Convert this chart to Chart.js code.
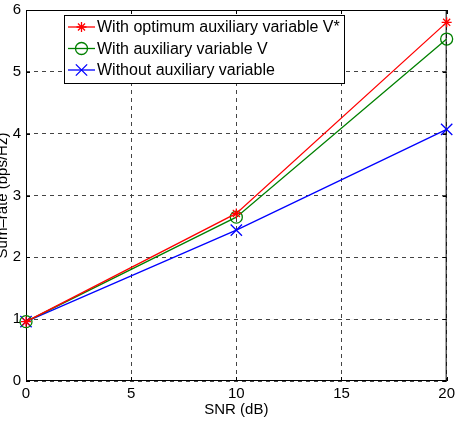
<!DOCTYPE html>
<html>
<head>
<meta charset="utf-8">
<script src="https://cdn.jsdelivr.net/npm/chart.js@4.4.1/dist/chart.umd.min.js"></script>
<style>
  html, body { margin: 0; padding: 0; background: #fff; overflow: hidden; }
  /* canvas a bit larger than the window so the plot box lands where matlab put it */
  #wrap { position: relative; width: 459px; height: 427px; margin-top: -4px; }
</style>
</head>
<body>
<div id="wrap"><canvas id="sumRateChart"></canvas></div>
<script>
// data
const snrValues = [0, 10, 20];
const withOptimumV = [0.96, 2.71, 5.8];
const withV = [0.96, 2.65, 5.53];
const withoutV = [0.96, 2.44, 4.07];

const seriesNames = [
  "With optimum auxiliary variable V*",
  "With auxiliary variable V",
  "Without auxiliary variable",
];
const seriesColors = ["#ff0000", "#008000", "#0000ff"];
const seriesMarkers = ["star", "circle", "crossRot"];
const markerSizes = [5, 6, 8];

const xTicks = [0, 5, 10, 15, 20];
const yTicks = [0, 1, 2, 3, 4, 5, 6];

const FONT = "'Liberation Sans', Arial, Helvetica, sans-serif";
const OFF = 4; // canvas is shifted up by this much

const toPoints = (ys) => snrValues.map((x, i) => ({ x: x, y: ys[i] }));

const datasets = [withOptimumV, withV, withoutV].map((ys, i) => ({
  label: seriesNames[i],
  data: toPoints(ys),
  borderColor: seriesColors[i],
  backgroundColor: "rgba(0,0,0,0)",
  borderWidth: 1.3,
  pointStyle: seriesMarkers[i],
  pointRadius: markerSizes[i],
  pointBorderWidth: 1.3,
  pointBorderColor: seriesColors[i],
  pointBackgroundColor: "rgba(0,0,0,0)",
  tension: 0,
  fill: false,
  clip: false,
}));

// box, inward ticks, axis titles and the legend box, matlab style
const matlabFrame = {
  id: "matlabFrame",
  beforeDatasetsDraw(chart) {
    const ctx = chart.ctx;
    const area = chart.chartArea;
    const xs = chart.scales.x;
    const ys = chart.scales.y;
    ctx.save();
    ctx.strokeStyle = "#000";
    ctx.lineWidth = 1;
    ctx.setLineDash([]);
    ctx.strokeRect(area.left + 0.5, area.top + 0.5, area.right - area.left - 1, area.bottom - area.top - 1);

    const tl = 4;
    ctx.beginPath();
    xTicks.forEach((t) => {
      const px = Math.round(xs.getPixelForValue(t)) + 0.5;
      ctx.moveTo(px, area.bottom);
      ctx.lineTo(px, area.bottom - tl);
      ctx.moveTo(px, area.top);
      ctx.lineTo(px, area.top + tl);
    });
    yTicks.forEach((t) => {
      const py = Math.round(ys.getPixelForValue(t)) + 0.5;
      ctx.moveTo(area.left, py);
      ctx.lineTo(area.left + tl, py);
      ctx.moveTo(area.right, py);
      ctx.lineTo(area.right - tl, py);
    });
    ctx.stroke();

    // axis titles
    ctx.fillStyle = "#000";
    ctx.font = "15px " + FONT;
    ctx.textAlign = "center";
    ctx.textBaseline = "alphabetic";
    ctx.fillText("SNR (dB)", (area.left + area.right) / 2, 414 + OFF);
    ctx.save();
    ctx.translate(7, (area.top + area.bottom) / 2);
    ctx.rotate(-Math.PI / 2);
    ctx.fillText("Sum\u2013rate (bps/Hz)", 0, 0);
    ctx.restore();
    ctx.restore();
  },
  afterDraw(chart) {
    const ctx = chart.ctx;
    ctx.save();
    // legend
    const lx = 64.5, ly = 15.5 + OFF, lw = 280, lh = 68;
    ctx.fillStyle = "#fff";
    ctx.fillRect(lx, ly, lw, lh);
    ctx.strokeStyle = "#000";
    ctx.lineWidth = 1;
    ctx.strokeRect(lx, ly, lw, lh);
    ctx.font = "16px " + FONT;
    ctx.textAlign = "left";
    ctx.textBaseline = "middle";
    chart.data.datasets.forEach((ds, i) => {
      const rowY = 27 + OFF + i * 21.5;
      ctx.strokeStyle = ds.borderColor;
      ctx.lineWidth = 1.3;
      ctx.beginPath();
      ctx.moveTo(68, rowY);
      ctx.lineTo(95, rowY);
      ctx.stroke();
      ctx.fillStyle = "rgba(0,0,0,0)";
      Chart.helpers.drawPoint(ctx, {
        pointStyle: ds.pointStyle,
        radius: ds.pointRadius,
        borderWidth: 1.3,
        rotation: 0,
      }, 81.5, rowY);
      ctx.fillStyle = "#000";
      ctx.fillText(ds.label, 97, rowY + 1);
    });
    ctx.restore();
  },
};

const ctx1 = document.getElementById("sumRateChart").getContext("2d");

const chart1 = new Chart(ctx1, {
  type: "line",
  data: { datasets: datasets },
  options: {
    responsive: true,
    maintainAspectRatio: false,
    animation: false,
    layout: { padding: { top: 10, right: 0, left: 0, bottom: 0 } },
    plugins: {
      legend: { display: false },
      tooltip: { enabled: false },
    },
    scales: {
      x: {
        type: "linear",
        min: 0,
        max: 20,
        afterBuildTicks: (scale) => {
          scale.ticks = xTicks.map((v) => ({ value: v }));
        },
        afterFit: (scale) => {
          scale.height = 42;
        },
        grid: {
          color: "#444",
          drawTicks: false,
        },
        border: { display: false, dash: [4, 4] },
        ticks: {
          color: "#000",
          padding: 4,
          maxRotation: 0,
          font: { family: FONT, size: 15 },
        },
      },
      y: {
        type: "linear",
        min: 0,
        max: 6,
        afterBuildTicks: (scale) => {
          scale.ticks = yTicks.map((v) => ({ value: v }));
        },
        afterFit: (scale) => {
          scale.width = 26;
        },
        grid: {
          color: "#444",
          drawTicks: false,
        },
        border: { display: false, dash: [4, 4] },
        ticks: {
          color: "#000",
          padding: 5,
          font: { family: FONT, size: 15 },
        },
      },
    },
  },
  plugins: [matlabFrame],
});
</script>
</body>
</html>
